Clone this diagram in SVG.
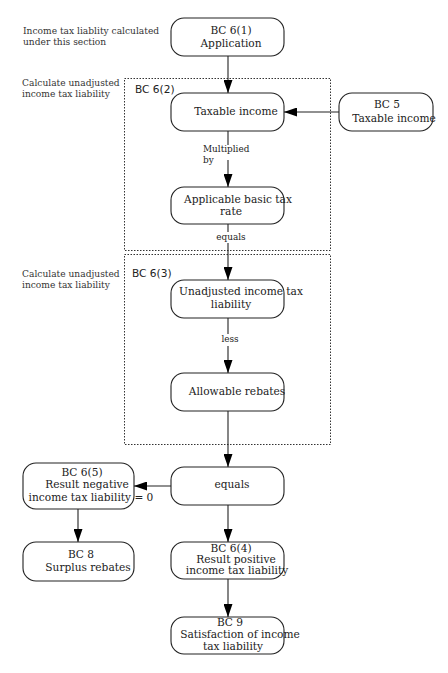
<svg xmlns="http://www.w3.org/2000/svg" width="448" height="673" viewBox="0 0 448 673">
<style>
.n{fill:#fff;stroke:#222;stroke-width:1.1}
.t{font-family:"DejaVu Serif",serif;font-size:10.6px;fill:#222;text-anchor:middle}
.s{font-family:"DejaVu Serif",serif;font-size:9.1px;fill:#333}
.el{font-family:"DejaVu Serif",serif;font-size:8.9px;fill:#222}
.bx{fill:none;stroke:#333;stroke-width:1;stroke-dasharray:1.5,1.5}
.bl{font-family:"DejaVu Sans",sans-serif;font-size:10.6px;fill:#222}
.c{stroke:#222;stroke-width:1.1;fill:none}
</style>
<defs>
<marker id="a" viewBox="0 0 10 10" refX="10" refY="5" markerWidth="13" markerHeight="9" markerUnits="userSpaceOnUse" orient="auto" preserveAspectRatio="none">
<path d="M0,0 L10,5 L0,10 z" fill="#000"/>
</marker>
</defs>
<g id="notes">
<text class="s" x="23" y="34">Income tax liablity calculated</text>
<text class="s" x="23" y="45">under this section</text>
<text class="s" x="22" y="86">Calculate unadjusted</text>
<text class="s" x="22" y="97">income tax liability</text>
<text class="s" x="22" y="277">Calculate unadjusted</text>
<text class="s" x="22" y="288">income tax liability</text>
</g>
<g id="box1"><rect class="bx" x="124.5" y="78.5" width="206" height="172"/><text class="bl" x="135" y="93">BC 6(2)</text></g>
<g id="box2"><rect class="bx" x="124.5" y="254.5" width="206" height="190"/><text class="bl" x="132" y="277">BC 6(3)</text></g>
<g id="connectors">
<line class="c" x1="228" y1="56" x2="228" y2="93" marker-end="url(#a)"/>
<line class="c" x1="339" y1="112" x2="284" y2="112" marker-end="url(#a)"/>
<line class="c" x1="228" y1="131" x2="228" y2="187" marker-end="url(#a)"/>
<rect x="220" y="145" width="14" height="15" fill="#fff"/>
<text class="el" x="203" y="152">Multiplied</text>
<text class="el" x="203" y="163">by</text>
<line class="c" x1="228" y1="224" x2="228" y2="280" marker-end="url(#a)"/>
<rect x="214" y="232" width="34" height="11" fill="#fff"/>
<text class="el" x="231" y="240" text-anchor="middle">equals</text>
<line class="c" x1="228" y1="318" x2="228" y2="373" marker-end="url(#a)"/>
<rect x="218" y="334" width="24" height="12" fill="#fff"/>
<text class="el" x="230" y="342" text-anchor="middle">less</text>
<line class="c" x1="228" y1="411" x2="228" y2="467" marker-end="url(#a)"/>
<line class="c" x1="171" y1="486" x2="134" y2="486" marker-end="url(#a)"/>
<line class="c" x1="78" y1="509" x2="78" y2="542" marker-end="url(#a)"/>
<line class="c" x1="228" y1="505" x2="228" y2="542" marker-end="url(#a)"/>
<line class="c" x1="228" y1="579" x2="228" y2="617" marker-end="url(#a)"/>
</g>
<g id="bc61"><rect class="n" x="171" y="18" width="113" height="38" rx="13"/><text class="t" x="231" y="34">BC 6(1)</text><text class="t" x="231" y="47">Application</text></g>
<g id="taxable"><rect class="n" x="171" y="93" width="113" height="38" rx="13"/><text class="t" x="236" y="115">Taxable income</text></g>
<g id="bc5"><rect class="n" x="339" y="93" width="94" height="38" rx="13"/><text class="t" x="387" y="108">BC 5</text><text class="t" x="394" y="122">Taxable income</text></g>
<g id="rate"><rect class="n" x="171" y="187" width="113" height="37" rx="13"/><text class="t" x="238" y="203">Applicable basic tax</text><text class="t" x="231" y="215">rate</text></g>
<g id="unadj"><rect class="n" x="171" y="280" width="113" height="38" rx="13"/><text class="t" x="241" y="295">Unadjusted income tax</text><text class="t" x="231" y="308">liability</text></g>
<g id="rebates"><rect class="n" x="171" y="373" width="113" height="38" rx="13"/><text class="t" x="237" y="395">Allowable rebates</text></g>
<g id="equals"><rect class="n" x="171" y="467" width="113" height="38" rx="13"/><text class="t" x="232" y="488">equals</text></g>
<g id="bc65"><rect class="n" x="23" y="463" width="111" height="46" rx="13"/><text class="t" x="82" y="476">BC 6(5)</text><text class="t" x="87" y="488">Result negative</text><text class="t" x="91" y="501">income tax liability = 0</text></g>
<g id="bc8"><rect class="n" x="23" y="542" width="111" height="39" rx="13"/><text class="t" x="81" y="558">BC 8</text><text class="t" x="88" y="571">Surplus rebates</text></g>
<g id="bc64"><rect class="n" x="171" y="542" width="113" height="37" rx="13"/><text class="t" x="231" y="552">BC 6(4)</text><text class="t" x="236" y="563">Result positive</text><text class="t" x="237" y="574">income tax liability</text></g>
<g id="bc9"><rect class="n" x="171" y="617" width="113" height="37" rx="13"/><text class="t" x="230" y="626">BC 9</text><text class="t" x="240" y="638">Satisfaction of income</text><text class="t" x="233" y="650">tax liability</text></g>
</svg>
